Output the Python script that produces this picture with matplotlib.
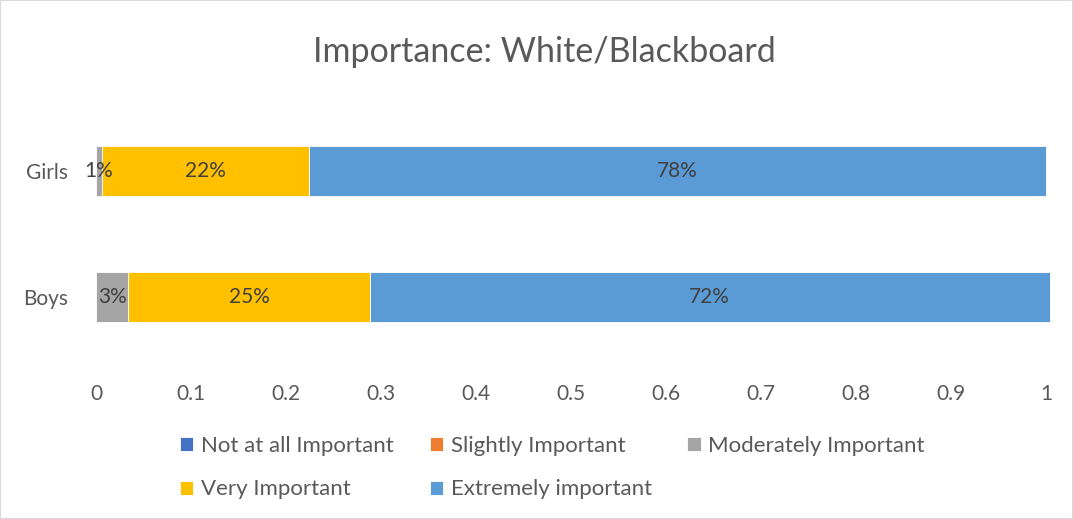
import numpy as np
import matplotlib.pyplot as plt
from matplotlib.patches import Rectangle

plt.rcParams['font.family'] = ['Lato', 'DejaVu Sans']

groups = ['Boys', 'Girls']
levels = ['Not at all Important', 'Slightly Important', 'Moderately Important',
          'Very Important', 'Extremely important']
not_at_all = [0.0, 0.0]
slightly = [0.0, 0.0]
moderately = [0.034, 0.006]
very = [0.254, 0.218]
extremely = [0.716, 0.776]
colors = ['#4472C4', '#ED7D31', '#A5A5A5', '#FFC000', '#5B9BD5']
text_col = '#595959'

fig = plt.figure(figsize=(10.73, 5.19), dpi=100)
ax = fig.add_axes([96 / 1073, 1 - 360 / 519, 950 / 1073, 252 / 519])

y = np.arange(len(groups))
left = np.zeros(len(groups))
handles = []
for name, vals, c in zip(levels, [not_at_all, slightly, moderately, very, extremely], colors):
    vals = np.array(vals)
    bars = ax.barh(y, vals, left=left, height=0.4, color=c, label=name,
                   edgecolor='white', linewidth=0.6, clip_on=False)
    handles.append(bars)
    for b, v in zip(bars, vals):
        if v > 0:
            ax.text(b.get_x() + b.get_width() / 2, b.get_y() + b.get_height() / 2,
                    f'{v * 100:.0f}%', ha='center', va='center',
                    fontsize=15, color='#404040')
    left += vals

ax.set_xlim(0, 1)
ax.set_ylim(-0.5, 1.5)
ax.set_yticks(y, groups)
ax.set_xticks(np.arange(0, 1.01, 0.1), ['0', '0.1', '0.2', '0.3', '0.4', '0.5', '0.6', '0.7', '0.8', '0.9', '1'])
ax.tick_params(axis='x', length=0, pad=17, labelsize=15, labelcolor=text_col)
ax.tick_params(axis='y', length=0, pad=20, labelsize=15, labelcolor=text_col)
for s in ax.spines.values():
    s.set_visible(False)

fig.text(544 / 1073, 1 - 52 / 519, 'Importance: White/Blackboard', ha='center', va='center',
         fontsize=24.5, color=text_col)

# legend fills column-first, so reorder to read row by row
order = [0, 3, 1, 4, 2]
fig.legend([handles[i] for i in order], [levels[i] for i in order],
           loc='upper left', bbox_to_anchor=(169 / 1073, 1 - 425 / 519), ncol=3, frameon=False,
           fontsize=16, labelcolor=text_col, handlelength=0.6, handleheight=0.6,
           handletextpad=0.35, columnspacing=1.6, labelspacing=1.05, borderpad=0)

fig.patches.append(Rectangle((0, 0), 1, 1, transform=fig.transFigure, fill=False,
                             edgecolor='#D9D9D9', linewidth=1.5))

fig.savefig('out.png', dpi=100)
